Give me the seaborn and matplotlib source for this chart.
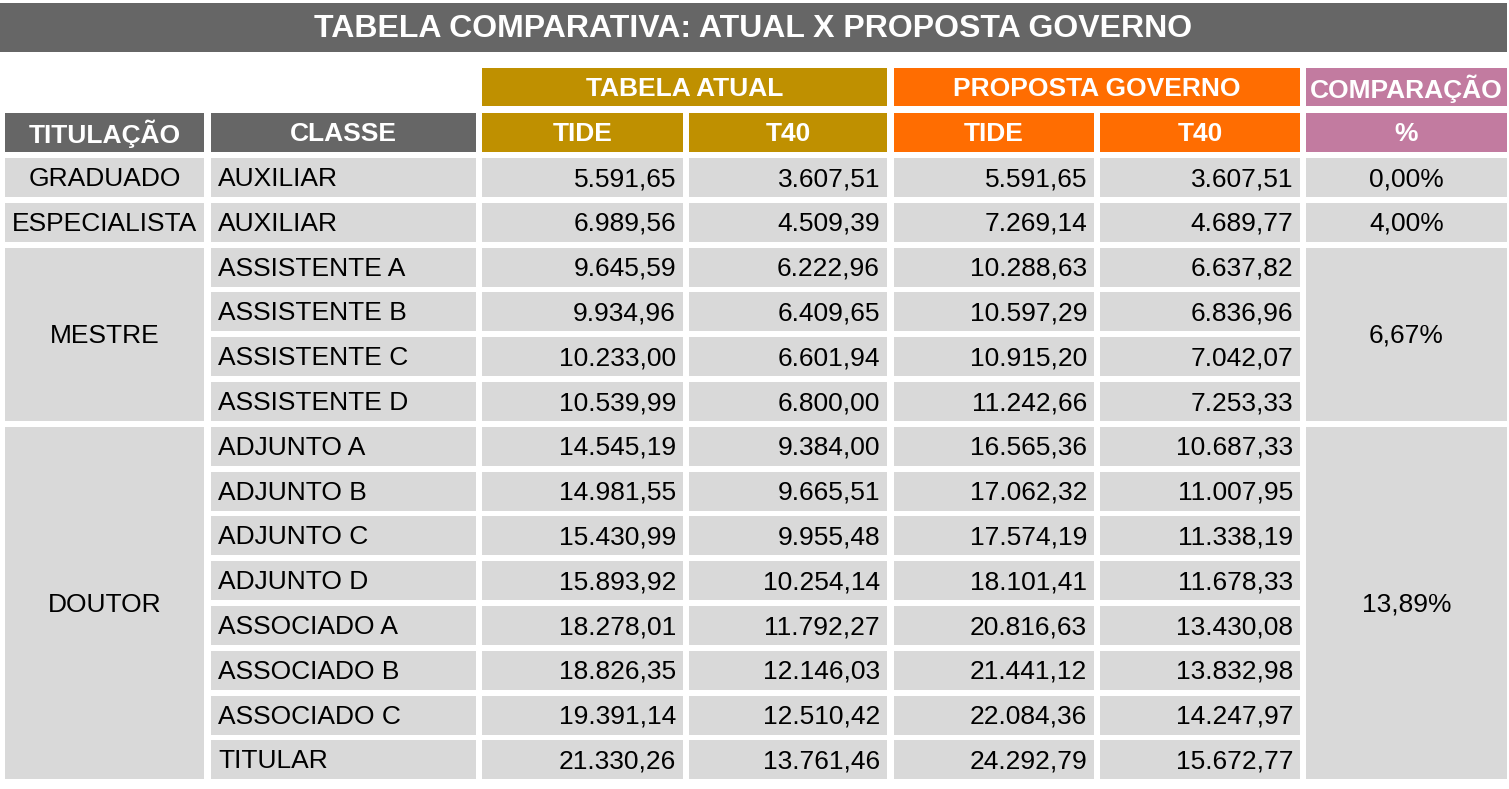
import matplotlib
matplotlib.use("Agg")
import matplotlib.pyplot as plt
from matplotlib.patches import Rectangle
import seaborn as sns

# -----------------------------
# dados da tabela
# -----------------------------
titulo = "TABELA COMPARATIVA: ATUAL X PROPOSTA GOVERNO"
grupos_sup = ["TABELA ATUAL", "PROPOSTA GOVERNO", "COMPARAÇÃO"]
cabecalhos = ["TITULAÇÃO", "CLASSE", "TIDE", "T40", "TIDE", "T40", "%"]

titulacoes = ["GRADUADO", "ESPECIALISTA", "MESTRE", "DOUTOR"]
linhas_por_titulacao = [1, 1, 4, 8]
comparacao = ["0,00%", "4,00%", "6,67%", "13,89%"]

classes = ["AUXILIAR", "AUXILIAR", "ASSISTENTE A", "ASSISTENTE B", "ASSISTENTE C",
           "ASSISTENTE D", "ADJUNTO A", "ADJUNTO B", "ADJUNTO C", "ADJUNTO D",
           "ASSOCIADO A", "ASSOCIADO B", "ASSOCIADO C", "TITULAR"]
atual_tide = ["5.591,65", "6.989,56", "9.645,59", "9.934,96", "10.233,00", "10.539,99",
              "14.545,19", "14.981,55", "15.430,99", "15.893,92", "18.278,01",
              "18.826,35", "19.391,14", "21.330,26"]
atual_t40 = ["3.607,51", "4.509,39", "6.222,96", "6.409,65", "6.601,94", "6.800,00",
             "9.384,00", "9.665,51", "9.955,48", "10.254,14", "11.792,27",
             "12.146,03", "12.510,42", "13.761,46"]
prop_tide = ["5.591,65", "7.269,14", "10.288,63", "10.597,29", "10.915,20", "11.242,66",
             "16.565,36", "17.062,32", "17.574,19", "18.101,41", "20.816,63",
             "21.441,12", "22.084,36", "24.292,79"]
prop_t40 = ["3.607,51", "4.689,77", "6.637,82", "6.836,96", "7.042,07", "7.253,33",
            "10.687,33", "11.007,95", "11.338,19", "11.678,33", "13.430,08",
            "13.832,98", "14.247,97", "15.672,77"]

# -----------------------------
# layout (pixels)
# -----------------------------
W, H = 1509, 789
col_x = [5, 211, 482, 689, 894, 1100, 1306]
col_w = [199, 265, 201, 198, 200, 200, 201]
row0, pitch, cell_h = 158, 44.8, 39
pad = 7

CINZA_ESC = "#666666"
CINZA_CLARO = "#d9d9d9"
OURO = "#bf9000"
LARANJA = "#ff6d01"
ROSA = "#c27ba0"
cores_col = [CINZA_ESC, CINZA_ESC, OURO, OURO, LARANJA, LARANJA, ROSA]

sns.set_theme(style="white")
plt.rcParams["font.family"] = ["Liberation Sans", "DejaVu Sans"]

fig = plt.figure(figsize=(W / 100, H / 100), dpi=100)
ax = fig.add_axes([0, 0, 1, 1])
ax.set_xlim(0, W)
ax.set_ylim(H, 0)
ax.axis("off")

FS = 19


def celula(x, y, w, h, cor, texto="", ha="center", cor_txt="black", bold=False, fs=FS):
    ax.add_patch(Rectangle((x, y), w, h, facecolor=cor, edgecolor="none"))
    if texto:
        if ha == "left":
            tx = x + pad
        elif ha == "right":
            tx = x + w - pad
        else:
            tx = x + w / 2
        ax.text(tx, y + h / 2 + 1.5, texto, ha=ha, va="center", color=cor_txt,
                fontsize=fs, fontweight="bold" if bold else "normal")


# título
celula(0, 3, 1507, 49, CINZA_ESC, titulo, cor_txt="white", bold=True, fs=23)

# grupos superiores
celula(col_x[2], 68, col_x[3] + col_w[3] - col_x[2], 38, OURO, grupos_sup[0], cor_txt="white", bold=True)
celula(col_x[4], 68, col_x[5] + col_w[5] - col_x[4], 38, LARANJA, grupos_sup[1], cor_txt="white", bold=True)
celula(col_x[6], 68, col_w[6], 38, ROSA, grupos_sup[2], cor_txt="white", bold=True)

# cabeçalhos
for j, cab in enumerate(cabecalhos):
    celula(col_x[j], 113, col_w[j], 39, cores_col[j], cab, cor_txt="white", bold=True)

# linhas de dados
colunas_num = [atual_tide, atual_t40, prop_tide, prop_t40]
for i, classe in enumerate(classes):
    y = row0 + i * pitch
    celula(col_x[1], y, col_w[1], cell_h, CINZA_CLARO, classe, ha="left")
    for k, serie in enumerate(colunas_num):
        celula(col_x[2 + k], y, col_w[2 + k], cell_h, CINZA_CLARO, serie[i], ha="right")

# células mescladas: titulação e comparação
inicio = 0
for tit, n, comp in zip(titulacoes, linhas_por_titulacao, comparacao):
    y = row0 + inicio * pitch
    h = (n - 1) * pitch + cell_h
    celula(col_x[0], y, col_w[0], h, CINZA_CLARO, tit)
    celula(col_x[6], y, col_w[6], h, CINZA_CLARO, comp)
    inicio += n

fig.savefig("out.png", dpi=100)
